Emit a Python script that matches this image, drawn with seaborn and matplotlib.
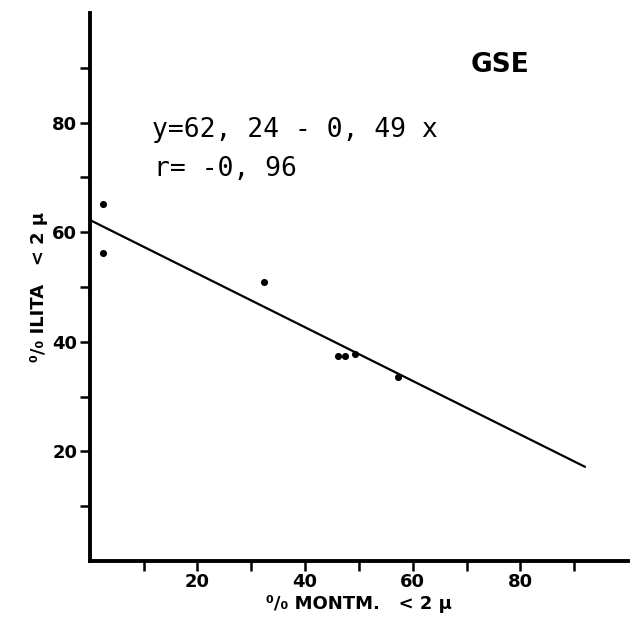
import matplotlib
matplotlib.use("Agg")
import matplotlib.pyplot as plt
import seaborn as sns
import numpy as np
import pandas as pd

# Data
montm = [2.4, 2.4, 32.3, 46.2, 47.5, 49.2, 57.3]
ilita = [65.1, 56.2, 50.9, 37.4, 37.4, 37.8, 33.6]
intercept = 62.24
slope = -0.49
line_x = [0, 92]
line_y = [intercept + slope * v for v in line_x]
major_ticks = [20, 40, 60, 80]
minor_ticks = [10, 30, 50, 70, 90]

sns.set_theme(style="white")
plt.rcParams['font.family'] = ['DejaVu Sans']
plt.rcParams.update({"text.color": "black", "axes.labelcolor": "black",
                     "xtick.color": "black", "ytick.color": "black"})

fig = plt.figure(figsize=(6.37, 6.28), dpi=100)
ax = fig.add_axes([0.141, 0.107, 0.845, 0.872])

pts = pd.DataFrame({"montm": montm, "ilita": ilita})
ln = pd.DataFrame({"x": line_x, "y": line_y})
sns.lineplot(data=ln, x="x", y="y", ax=ax, color="black", linewidth=1.6)
sns.scatterplot(data=pts, x="montm", y="ilita", ax=ax, color="black", s=26,
                edgecolor="black", linewidth=0, zorder=5)

ax.set_xlim(0, 100)
ax.set_ylim(0, 100)
ax.set_xticks(major_ticks)
ax.set_yticks(major_ticks)
ax.set_xticks(minor_ticks, minor=True)
ax.set_yticks(minor_ticks, minor=True)
ax.set_xticklabels([str(t) for t in major_ticks], fontsize=13, fontweight="bold")
ax.set_yticklabels([str(t) for t in major_ticks], fontsize=13, fontweight="bold")
ax.tick_params(axis="both", which="both", direction="out", length=7, width=1.8,
               color="black", labelcolor="black", bottom=True, left=True)
ax.tick_params(axis="x", which="major", pad=2)
ax.tick_params(axis="y", which="major", pad=2)

for s in ["top", "right"]:
    ax.spines[s].set_visible(False)
for s in ["left", "bottom"]:
    ax.spines[s].set_color("black")
    ax.spines[s].set_linewidth(2.8)

ax.set_xlabel("⁰/₀ MONTM.   < 2 μ", fontsize=13, fontweight="bold", labelpad=3)
ax.set_ylabel("⁰/₀ ILITA   < 2 μ", fontsize=13, fontweight="bold", labelpad=3)

ax.text(0.115, 0.786, "y=62, 24 - 0, 49 x", transform=ax.transAxes,
        fontsize=19, family="DejaVu Sans Mono", ha="left", va="center")
ax.text(0.119, 0.716, "r= -0, 96", transform=ax.transAxes,
        fontsize=19, family="DejaVu Sans Mono", ha="left", va="center")
ax.text(0.762, 0.905, "GSE", transform=ax.transAxes,
        fontsize=19, fontweight="bold", ha="center", va="center")

fig.savefig("out.png", dpi=100)
